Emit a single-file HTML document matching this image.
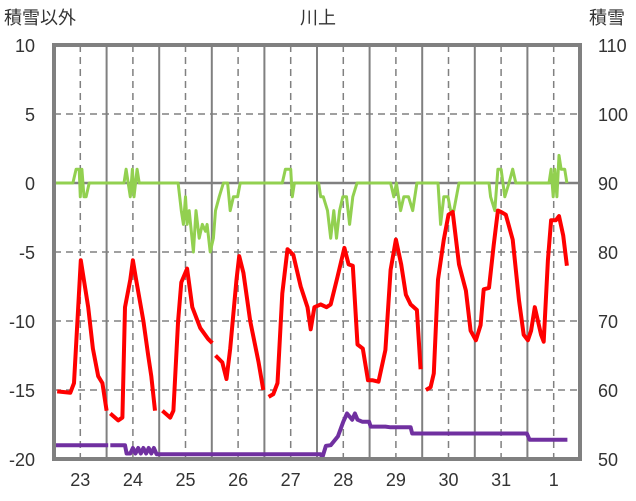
<!DOCTYPE html>
<html><head><meta charset="utf-8"><style>
body{margin:0;background:#fff;}
svg{display:block;font-family:"Liberation Sans","Noto Sans CJK JP",sans-serif;}
</style></head><body>
<svg id="chart" width="636" height="501" viewBox="0 0 636 501">
<g id="grid"></g>
<g id="series"></g>
<g id="axes"></g>
<text x="4" y="24" font-size="18" fill="#333">積雪以外</text>
<text x="318" y="24" font-size="18" fill="#333" text-anchor="middle">川上</text>
<text x="589" y="24" font-size="18" fill="#333">積雪</text>
</svg>
<script>
const dayLabels=["23","24","25","26","27","28","29","30","31","1"];
const leftTicks=[10,5,0,-5,-10,-15,-20];
const rightTicks=[110,100,90,80,70,60,50];
// time in days from start of plot (day 23 midpoint = 0.5)
const tempTimes=[
0.06,0.31,0.38,0.46,0.51,0.65,0.74,0.84,0.92,1.0,null,
1.07,1.22,1.30,1.35,1.45,1.50,1.56,1.70,1.79,1.85,1.92,null,
2.06,2.21,2.27,2.36,2.42,2.53,2.63,2.78,2.93,3.01,null,
3.07,3.20,3.28,3.35,3.47,3.52,3.60,3.73,3.89,3.98,null,
4.08,4.17,4.25,4.34,4.44,4.55,4.69,4.82,4.88,4.95,5.07,5.18,5.26,5.39,5.52,5.60,5.68,5.77,5.87,5.97,6.06,6.17,6.30,6.40,6.50,6.60,6.69,6.78,6.90,6.97,null,
7.07,7.16,7.22,7.30,7.41,7.50,7.58,7.70,7.83,7.92,8.02,8.11,8.17,8.27,8.36,8.44,8.50,8.59,8.72,8.84,8.93,9.01,9.07,9.14,9.26,9.31,9.39,9.45,9.54,9.60,9.68,9.75];
const temp=[
-15.1,-15.2,-14.5,-9,-5.6,-9,-12,-14,-14.5,-16.5,null,
-16.7,-17.2,-17,-9,-7,-5.6,-7,-10,-12.5,-14,-16.5,null,
-16.5,-17,-16.5,-10,-7.2,-6.2,-9,-10.5,-11.3,-11.6,null,
-12.5,-13,-14.2,-12,-7,-5.3,-6.5,-10,-13,-15,null,
-15.5,-15.3,-14.5,-8,-4.8,-5.2,-7.5,-9,-10.6,-9,-8.8,-9,-8.8,-6.8,-4.7,-5.9,-6,-11.7,-12,-14.3,-14.3,-14.4,-12.1,-6.3,-4.1,-5.9,-8.1,-8.8,-9.2,-13.5,null,
-15,-14.8,-13.8,-7,-4.1,-2.3,-2.1,-5.9,-7.8,-10.7,-11.4,-10.3,-7.7,-7.6,-4.5,-2,-2.1,-2.3,-4.1,-8.5,-11,-11.4,-10.7,-9,-11,-11.5,-5.6,-2.7,-2.7,-2.4,-3.8,-6];
const snowDiffTimes=[
0,0.36,0.42,0.48,0.50,0.53,0.57,0.61,0.67,
1.33,1.37,1.41,1.45,1.49,1.52,1.58,1.62,
2.36,2.42,2.46,2.50,2.53,2.57,2.65,2.70,2.76,2.82,2.88,2.91,2.97,3.03,3.07,3.14,3.22,3.30,3.35,3.41,3.49,3.54,
4.34,4.40,4.50,4.53,4.57,
5.03,5.07,5.12,5.20,5.26,5.32,5.37,5.43,5.49,5.56,5.62,5.68,5.76,
6.40,6.46,6.51,6.59,6.65,6.74,6.82,6.90,
7.30,7.35,7.41,7.49,7.54,7.60,7.70,
8.27,8.30,8.38,8.44,8.50,8.57,8.65,8.72,8.78,
9.41,9.45,9.49,9.52,9.56,9.60,9.64,9.71,9.75];
const snowDiff=[
0,0,1,1,-1,1,-1,-1,0,
0,1,0,-1,1,-1,1,0,
0,-2,-3,-1,-3,-2,-5,-2,-4,-3,-3.5,-3,-5,-4,-2,-1,0,0,-2,-1,-1,0,
0,1,1,-1,0,
0,-1,-1,-2,-4,-2,-4,-2,-1,-1,-3,-1,0,
0,-1,0,-2,-1,-1,-2,0,
0,-3,-1,-1,-2,-2,0,
0,-1,-2,1,1,-1,0,1,0,
0,1,-1,1,-1,2,1,1,0];
const snowTimes=[0,1.03,null,1.07,1.35,1.38,1.45,1.50,1.55,1.60,1.65,1.70,1.75,1.80,1.85,1.90,1.95,2.05,
5.07,5.10,5.17,5.26,5.40,5.50,5.57,5.67,5.72,5.77,5.86,5.95,5.99,6.02,6.30,6.40,6.78,6.81,6.84,8.99,9.04,9.16,9.76];
const snow=[52,52,null,52,52,50.8,50.8,51.6,50.8,51.6,50.8,51.6,50.8,51.6,50.8,51.6,50.7,50.7,
50.7,50.2,51.9,52.0,53.3,55.4,56.6,55.7,56.6,55.7,55.4,55.4,55.4,54.7,54.7,54.6,54.6,53.7,53.7,53.7,52.8,52.8,52.8];
const NS="http://www.w3.org/2000/svg";
const X0=54,X1=580,Y0=45,Y1=459;
const xs=t=>X0+(t/10)*(X1-X0);
const yl=v=>Y0+(10-v)/30*(Y1-Y0);
const yr=v=>Y0+(110-v)/60*(Y1-Y0);
function mk(tag,attrs,parent){const e=document.createElementNS(NS,tag);for(const k in attrs)e.setAttribute(k,attrs[k]);parent.appendChild(e);return e;}
const grid=document.getElementById('grid'),axes=document.getElementById('axes'),ser=document.getElementById('series');
leftTicks.forEach((v,i)=>{
  if(v!==10&&v!==-20&&v!==0){const l=mk('line',{x1:X0,x2:X1,y1:yl(v),y2:yl(v),stroke:'#808080','stroke-width':1.5,'stroke-dasharray':'7,5'},grid);
  
  }
  const t=mk('text',{x:35,y:yl(v)+7,'font-size':18,fill:'#333','text-anchor':'end'},axes);t.textContent=v;
  
  
  const r=mk('text',{x:598,y:yr(rightTicks[i])+7,'font-size':18,fill:'#333'},axes);r.textContent=rightTicks[i];
  
  
});
dayLabels.forEach((d,i)=>{
  const c=xs(i+0.5);
  const l=mk('line',{x1:c,x2:c,y1:Y0,y2:Y1,stroke:'#808080','stroke-width':1.5,'stroke-dasharray':'7,5'},grid);
  
  
  if(i<9){const b=mk('line',{x1:xs(i+1),x2:xs(i+1),y1:Y0,y2:Y1,stroke:'#808080','stroke-width':2},grid);
  
  }
  const t=mk('text',{x:c,y:486,'font-size':18,fill:'#333','text-anchor':'middle'},axes);t.textContent=d;
  
  
});
const z=mk('line',{x1:X0,x2:X1,y1:yl(0),y2:yl(0),stroke:'#808080','stroke-width':2.5},grid);


function path(times,vals,ys,color,w,name){
  let d='',pen=false;
  times.forEach((t,i)=>{const v=vals[i];if(t===null||v===null||v===undefined){pen=false;return;}
    d+=(pen?'L':'M')+xs(t).toFixed(1)+','+ys(v).toFixed(1);pen=true;});
  const p=mk('path',{d:d,fill:'none',stroke:color,'stroke-width':w,'stroke-linejoin':'round'},ser);
  
  
}
path(snowDiffTimes,snowDiff,yl,'#92d050',3,'snow-change-line');
path(tempTimes,temp,yl,'#ff0000',4,'temperature-line');
path(snowTimes,snow,yr,'#7030a0',4,'snow-depth-line');
const f=mk('rect',{x:X0,y:Y0,width:X1-X0,height:Y1-Y0,fill:'none',stroke:'#808080','stroke-width':4},axes);


</script>
</body></html>
